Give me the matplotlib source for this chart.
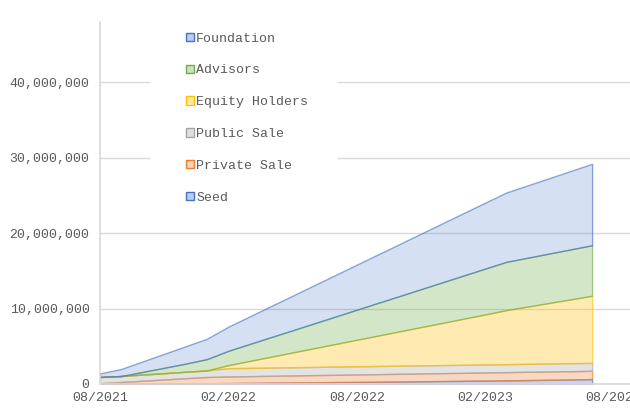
#!/usr/bin/env python3
# -*- coding: utf-8 -*-

import matplotlib.pyplot as plt
from matplotlib.patches import Patch, Rectangle
from matplotlib.ticker import FuncFormatter

# months since 08/2021
months = list(range(24))

# unlocked tokens per group (millions)
seed = [0.00, 0.02, 0.04, 0.06, 0.08, 0.10, 0.12, 0.15, 0.18, 0.20, 0.23, 0.25,
        0.28, 0.30, 0.33, 0.36, 0.39, 0.42, 0.45, 0.49, 0.52, 0.56, 0.60, 0.65]
private_sale = [0.10, 0.25, 0.39, 0.54, 0.69, 0.83, 0.88, 0.89, 0.91, 0.93, 0.95, 0.97,
                0.98, 1.01, 1.02, 1.04, 1.05, 1.06, 1.08, 1.08, 1.10, 1.10, 1.10, 1.10]
public_sale = [0.83, 0.79, 0.82, 0.83, 0.85, 0.87, 1.10, 1.10, 1.09, 1.09, 1.08, 1.09,
               1.09, 1.08, 1.08, 1.07, 1.07, 1.07, 1.06, 1.06, 1.06, 1.06, 1.06, 1.05]
equity_holders = [0.00, 0.00, 0.00, 0.00, 0.00, 0.00, 0.40, 0.92, 1.44, 1.96, 2.48, 2.99,
                  3.51, 4.03, 4.55, 5.07, 5.59, 6.11, 6.63, 7.17, 7.59, 8.03, 8.46, 8.90]
advisors = [0.00, 0.00, 0.35, 0.72, 1.08, 1.50, 1.90, 2.25, 2.60, 2.94, 3.29, 3.64,
            3.99, 4.34, 4.68, 5.03, 5.38, 5.73, 6.08, 6.40, 6.48, 6.55, 6.63, 6.70]
foundation = [0.47, 0.94, 1.40, 1.85, 2.30, 2.70, 3.20, 3.66, 4.12, 4.59, 5.05, 5.51,
              5.97, 6.43, 6.90, 7.36, 7.82, 8.28, 8.74, 9.20, 9.60, 10.00, 10.40, 10.80]

series_names = ['Seed', 'Private Sale', 'Public Sale',
                'Equity Holders', 'Advisors', 'Foundation']
series_values = [seed, private_sale, public_sale,
                 equity_holders, advisors, foundation]
series_colors = ['#4472C4', '#ED7D31', '#A5A5A5', '#FFC000', '#70AD47', '#4472C4']
fill_alpha = [0.30, 0.30, 0.30, 0.30, 0.30, 0.22]

tick_months = [0, 6, 12, 18, 24]
tick_labels = ['08/2021', '02/2022', '08/2022', '02/2023', '08/2023']
y_ticks = [0, 10_000_000, 20_000_000, 30_000_000, 40_000_000]

TEXT = '#595959'
GRID = '#D9D9D9'


def rgba(hex_color, alpha):
    r, g, b = (int(hex_color[i:i + 2], 16) / 255 for i in (1, 3, 5))
    return (r, g, b, alpha)


if __name__ == '__main__':
    plt.rcParams['font.family'] = ['Liberation Mono', 'DejaVu Sans Mono']
    plt.rcParams['font.size'] = 9.5

    fig = plt.figure(figsize=(6.3, 4.08), dpi=100)
    ax = fig.add_axes([100 / 630, 1 - 384 / 408, 530 / 630, 362 / 408])

    bottom = [0.0] * len(months)
    for name, vals, col, a in zip(series_names, series_values,
                                  series_colors, fill_alpha):
        lower = [b * 1e6 for b in bottom]
        top = [(b + v) * 1e6 for b, v in zip(bottom, vals)]
        ax.fill_between(months, lower, top,
                        facecolor=rgba(col, a), edgecolor=rgba(col, 0.6),
                        linewidth=1.0, zorder=2, label=name)
        bottom = [b + v for b, v in zip(bottom, vals)]

    ax.set_xlim(0, 24.77)
    ax.set_ylim(0, 48_000_000)
    ax.set_xticks(tick_months)
    ax.set_xticklabels(tick_labels)
    ax.set_yticks(y_ticks)
    ax.yaxis.set_major_formatter(FuncFormatter(lambda v, p: '{:,}'.format(int(v))))
    ax.tick_params(length=0, colors=TEXT, labelsize=9.5)
    ax.tick_params(axis='y', pad=7.5)
    ax.tick_params(axis='x', pad=6)

    ax.set_axisbelow(True)
    ax.grid(axis='y', color=GRID, linewidth=1.0)
    for side in ('top', 'right'):
        ax.spines[side].set_visible(False)
    for side in ('left', 'bottom'):
        ax.spines[side].set_color(GRID)
        ax.spines[side].set_linewidth(1.2)

    # white legend area hiding the gridlines
    ax.add_patch(Rectangle((50 / 530, 170 / 362), 188 / 530, 192 / 362,
                           transform=ax.transAxes, facecolor='white',
                           edgecolor='none', zorder=1.5))

    handles = [Patch(facecolor=rgba(c, 0.35), edgecolor=c, linewidth=1.0)
               for c in series_colors]
    leg = ax.legend(handles[::-1], series_names[::-1],
                    loc='upper left', bbox_to_anchor=(179 / 630, 1 - 26 / 408),
                    bbox_transform=fig.transFigure, frameon=False,
                    borderpad=0, handlelength=0.6, handleheight=0.6,
                    handletextpad=0.2, labelspacing=1.5, fontsize=9.5)
    for t in leg.get_texts():
        t.set_color(TEXT)

    plt.savefig('out.png', dpi=100)
    plt.close()
